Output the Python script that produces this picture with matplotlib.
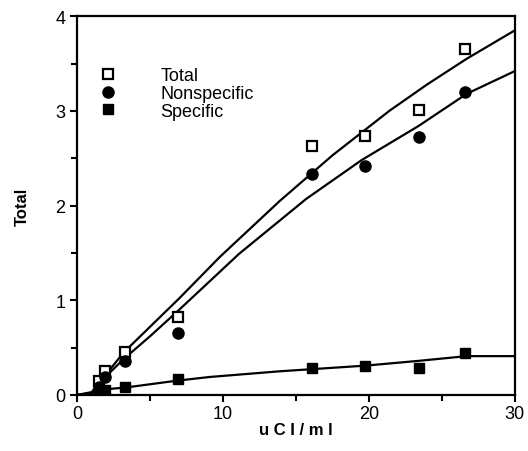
import numpy as np
import matplotlib.pyplot as plt

# measured points
conc = [1.5, 1.9, 3.3, 6.9, 16.1, 19.7, 23.4, 26.6]
total = [0.15, 0.25, 0.45, 0.82, 2.63, 2.73, 3.01, 3.65]
nonspecific = [0.08, 0.19, 0.36, 0.65, 2.33, 2.42, 2.72, 3.20]
specific = [0.02, 0.05, 0.08, 0.17, 0.28, 0.31, 0.28, 0.44]

# fitted curves
fit_total_x = [0, 1, 2, 3.2, 5, 7, 9.8, 13.9, 17.5, 21.4, 24, 26.7, 30]
fit_total_y = [0, 0.03, 0.22, 0.45, 0.72, 1.02, 1.46, 2.05, 2.53, 3.00, 3.28, 3.55, 3.85]
fit_nonspec_x = [0, 1, 2, 3.2, 5, 7, 11.1, 15.7, 19.5, 23.4, 26.7, 30]
fit_nonspec_y = [0, 0.02, 0.2, 0.38, 0.62, 0.90, 1.49, 2.07, 2.48, 2.84, 3.18, 3.42]
fit_spec_x = [0, 1, 2, 3.4, 6.8, 9.1, 13.9, 19.8, 23.4, 26.7, 30]
fit_spec_y = [0, 0.02, 0.06, 0.08, 0.15, 0.19, 0.25, 0.31, 0.36, 0.41, 0.41]

plt.rcParams['font.family'] = ['Liberation Sans', 'DejaVu Sans']

fig = plt.figure(figsize=(5.28, 4.52), dpi=100)
ax = fig.add_axes([0.146, 0.124, 0.829, 0.838])

ax.plot(fit_total_x, fit_total_y, color='black', lw=1.6)
ax.plot(fit_nonspec_x, fit_nonspec_y, color='black', lw=1.6)
ax.plot(fit_spec_x, fit_spec_y, color='black', lw=1.6)

ax.plot(conc, total, 's', ms=7, mfc='white', mec='black', mew=1.6, label='Total')
ax.plot(conc, nonspecific, 'o', ms=8, color='black', label='Nonspecific')
ax.plot(conc, specific, 's', ms=7.5, color='black', label='Specific')

ax.set_xlim(0, 30)
ax.set_ylim(0, 4)
ax.set_xticks([0, 10, 20, 30])
ax.set_xticks([5, 15, 25], minor=True)
ax.set_yticks([0, 1, 2, 3, 4])
ax.set_yticks([0.5, 1.5, 2.5, 3.5], minor=True)
ax.tick_params(which='both', direction='out', width=1.5, labelsize=13)
ax.tick_params(which='major', length=5)
ax.tick_params(which='minor', length=4)
ax.tick_params(axis='x', pad=2)
for s in ax.spines.values():
    s.set_linewidth(1.6)

ax.set_xlabel('u C I / m l', fontsize=12, fontweight='bold', labelpad=0)
ax.set_ylabel('Total', fontsize=12, fontweight='bold', labelpad=18)

ax.legend(loc='upper left', bbox_to_anchor=(0.013, 0.885), frameon=False,
          fontsize=13, handletextpad=1.9, labelspacing=0.05, borderaxespad=0)

fig.savefig('out.png', dpi=100)
